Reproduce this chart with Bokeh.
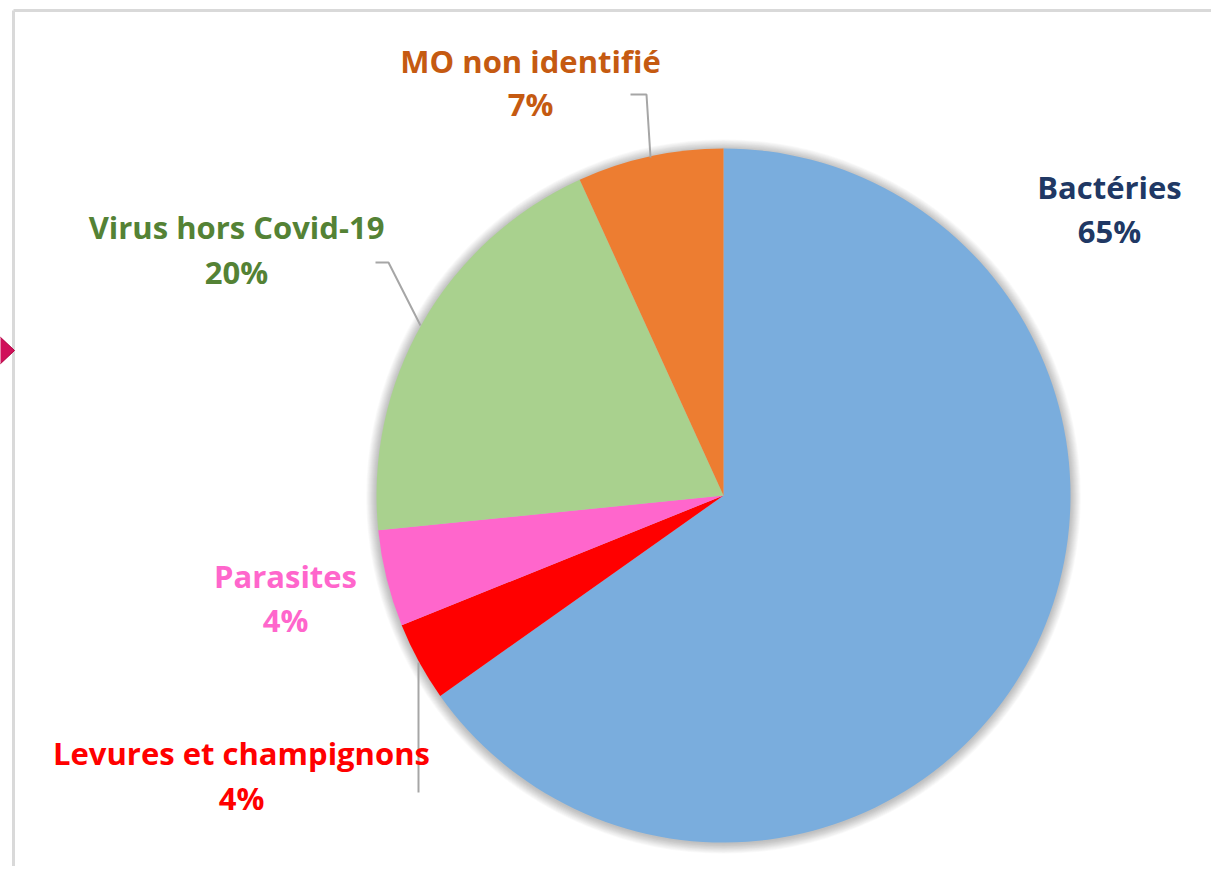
import math
from bokeh.plotting import figure
from bokeh.models import Range1d, ColumnDataSource
from bokeh.core.properties import value
from bokeh.embed import file_html
from bokeh.resources import INLINE

# ---- data ----
categories = ["Bactéries", "Levures et champignons", "Parasites", "Virus hors Covid-19", "MO non identifié"]
values = [65.2, 3.7, 4.5, 19.8, 6.8]
pct_labels = ["65%", "4%", "4%", "20%", "7%"]
slice_colors = ["#7AADDD", "#FF0000", "#FF66CC", "#A9D18E", "#ED7D31"]
text_colors = ["#203864", "#FF0000", "#FF66CC", "#548235", "#C55A11"]

W, H = 1211, 866
IMG_H = 882

def Y(img_y):
    return IMG_H - img_y

p = figure(width=W, height=H, output_backend="svg", toolbar_location=None,
           x_range=Range1d(0, W), y_range=Range1d(IMG_H - H, IMG_H),
           min_border=0, outline_line_color=None, background_fill_color="white",
           border_fill_color="white")
p.axis.visible = False
p.grid.visible = False

# frame
p.segment(x0=[13, 13], y0=[Y(10), Y(10)], x1=[13, 1240], y1=[Y(900), Y(10)],
          line_color="#D9D9D9", line_width=3)
# small arrow marker on left edge
p.patch(x=[-3, 14, -3], y=[Y(334), Y(350), Y(366)], fill_color="#D0105A", line_color="#B00040")

cx, cy, r = 723, Y(495), 347

# soft shadow
for i in range(1, 14):
    p.circle(x=[cx], y=[cy - 1], radius=r + i * 0.8, fill_color="#000000",
             fill_alpha=0.018, line_color=None)

total = sum(values)
starts, ends = [], []
cum = 0.0
for v in values:
    a0 = math.pi / 2 - 2 * math.pi * cum / total
    cum += v
    a1 = math.pi / 2 - 2 * math.pi * cum / total
    starts.append(a0)
    ends.append(a1)

src = ColumnDataSource(dict(start=starts, end=ends, color=slice_colors))
p.wedge(x=cx, y=cy, radius=r, start_angle="start", end_angle="end", direction="clock",
        fill_color="color", line_color=None, source=src)

# leader lines
lc = "#A6A6A6"
p.line(x=[630, 646, 650], y=[Y(94), Y(94), Y(157)], line_color=lc, line_width=2)
p.line(x=[375, 388, 420], y=[Y(262), Y(262), Y(325)], line_color=lc, line_width=2)
p.line(x=[418, 418], y=[Y(662), Y(792)], line_color=lc, line_width=2)

# labels (name, pct)
label_pos = [(1109, 186, 230), (241, 752, 797), (285, 575, 619), (236, 226, 271), (530, 60, 103)]
for name, pct, col, (lx, y1, y2) in zip(categories, pct_labels, text_colors, label_pos):
    p.text(x=[lx, lx], y=[Y(y1), Y(y2)], text=[name, pct], text_color=col,
           text_font=value("Open Sans"), text_font_style="bold", text_font_size="31px",
           text_align="center", text_baseline="middle")

open("out.html", "w").write(file_html(p, INLINE))
